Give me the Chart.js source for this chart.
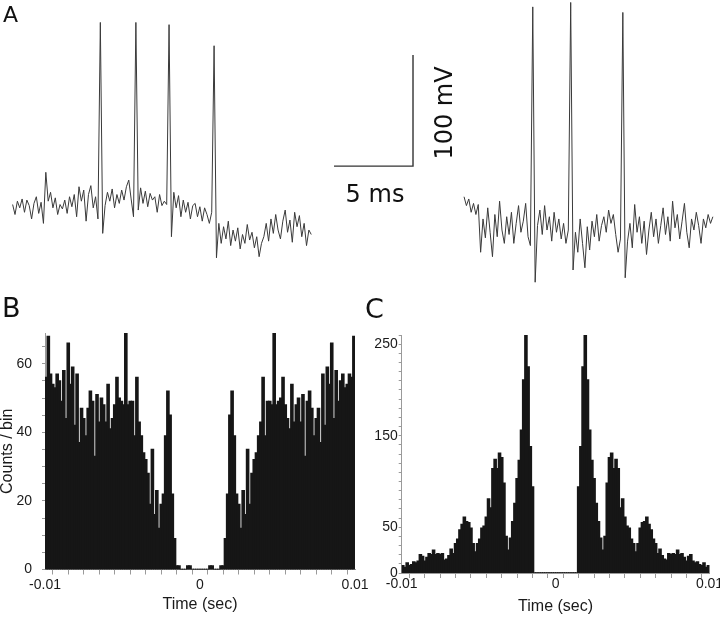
<!DOCTYPE html>
<html>
<head>
<meta charset="utf-8">
<title>Burst recordings and autocorrelograms</title>
<script src="https://cdn.jsdelivr.net/npm/chart.js@4.4.1/dist/chart.umd.min.js"></script>
<style>
  html, body { margin: 0; padding: 0; background: #fff; }
  body { position: relative; width: 720px; height: 617px; overflow: hidden; }
  canvas { position: absolute; }
  .label { position: absolute; font-family: "DejaVu Sans", sans-serif; color: #111; line-height: 1; white-space: nowrap; }
</style>
</head>
<body>
<canvas id="traces" width="720" height="290" style="left:0;top:0"></canvas>
<canvas id="hist-b" width="375" height="327" style="left:0;top:290px"></canvas>
<canvas id="hist-c" width="376" height="327" style="left:356px;top:290px"></canvas>

<div class="label" style="left:3px;top:4px;font-size:22px">A</div>
<div class="label" style="left:2px;top:294px;font-size:27px">B</div>
<div class="label" style="left:365px;top:295px;font-size:27px">C</div>
<div class="label" style="left:325px;top:182px;width:100px;text-align:center;font-size:24px">5 ms</div>
<div class="label" style="left:384px;top:101px;width:120px;text-align:center;font-size:24px;transform:rotate(-90deg)">100 mV</div>

<script>
// panel A: two recorded traces, mV, one sample every SAMPLE_MS
const SAMPLE_MS = 0.15;
const LEFT_START_MS = 0.8;
const RIGHT_START_MS = 29.37;

const LEFT_TRACE_MV = [
  5, -4, 8, 2, 10, -2, 9, 4, -8, 6, 12, -3, 7, -12,
  34, 8, 16, 2, 11, -4, 5, 1, 9, -3, 12, 3, 14, -6, 21, 8, 18, -10, 14, 22, 2, 12, -8,
  169,
  -21, 4, 16, 8, 19, 2, 14, 6, 18, 9, 21, 27, 10, -6,
  169,
  0, 20, 6, 17, 3, 15, 9, 12, -2, 14, 4, 8, 5,
  167,
  -24, 16, 2, 13, -6, 9, -2, 7, -8, 4, 6, -6, 3, -10, 2, -4, -12, -2,
  148,
  -43, -12, -30, -15, -26, -10, -32, -18, -28, -16, -35, -22, -30, -13, -27, -20, -34, -24, -42, -30,
  -24, -12, -28, -8, -21, -4, -18, -26, -10, 0, -20, -9, -29, -2, -15, -5, -24, -12, -32, -18, -22
];

const RIGHT_TRACE_MV = [
  12, 4, 10, -2, 6, -4, 5,
  -38, -8, -25, 2, -20, -42, -4, -24, 8, -18, -30, -6, -22, -2, -30, -12, 4, -20, -10, 6, -24, -32,
  183,
  -65, -14, 0, -22, 4, -18, -6, -28, -2, -20, -8, -26, -12, -30, -18,
  187,
  -54, -20, -38, -8, -30, -52, -15, -36, -10, -24, -4, -28, -14, -6, -20, 0, -12, -4, -22, -38, -26,
  178,
  -61, -28, -12, -34, 5, -20, -6, -30, -10, -40, -18, -2, -24, -8, -30, -14, 2, -22, -6, -28,
  8, -16, -4, -26, -10, 6, -20, -34, -8, -18, -2, -14, -30, -8, -16, -4, -12, -6
];

// scale bar: 5 ms by 100 mV
const SCALE_MS = 5;
const SCALE_MV = 100;
const SCALE_X0_MS = 21.14;
const SCALE_Y0_MV = 39.6;

// panels B and C: autocorrelograms, 140 bins from -0.01 to 0.01 s
const T_MIN = -0.01;
const T_MAX = 0.01;

const B_COUNTS = [
  56, 68, 57, 54, 53, 57, 55, 49, 58, 44, 66, 54, 59, 42, 57, 37, 47, 44, 39, 47,
  52, 49, 33, 51, 43, 50, 48, 43, 54, 41, 44, 48, 56, 50, 49, 48, 69, 48, 49, 49,
  39, 56, 43, 39, 34, 32, 28, 19, 35, 16, 23, 12, 19, 22, 39, 52, 45, 22, 9, 1,
  1, 0, 0, 0, 1, 1, 0, 0, 0, 0,
  0, 0, 0, 0, 1, 1, 0, 0, 0, 1,
  1, 9, 22, 45, 52, 39, 22, 19, 12, 23, 16, 35, 19, 28, 32, 34, 39, 43, 56, 39,
  49, 49, 48, 69, 48, 49, 50, 56, 48, 44, 41, 54, 43, 48, 50, 43, 51, 33, 49, 52,
  47, 39, 44, 47, 37, 57, 42, 59, 54, 66, 44, 58, 49, 55, 57, 53, 54, 57, 56, 68
];

const C_COUNTS = [
  8, 6, 11, 8, 9, 12, 11, 13, 20, 18, 13, 17, 21, 20, 25, 20, 21, 20, 21, 14,
  15, 19, 26, 21, 32, 37, 47, 53, 61, 56, 55, 49, 32, 23, 32, 37, 49, 51, 61, 81,
  71, 114, 124, 114, 131, 126, 98, 40, 25, 38, 56, 76, 103, 123, 156, 211, 270, 225, 138, 94,
  0, 0, 0, 0, 0, 0, 0, 0, 0, 0,
  0, 0, 0, 0, 0, 0, 0, 0, 0, 0,
  94, 138, 225, 270, 211, 156, 123, 103, 76, 56, 38, 25, 40, 98, 126, 131, 114, 124, 114, 71,
  81, 61, 51, 49, 37, 32, 23, 32, 49, 55, 56, 61, 53, 47, 37, 32, 21, 26, 19, 15,
  14, 21, 20, 21, 20, 25, 20, 21, 17, 13, 18, 20, 13, 11, 12, 9, 8, 11, 6, 8
];

const X_TICK_LABELS = ["-0.01", "0", "0.01"];
const B_Y_TICK_LABELS = [0, 20, 40, 60];
const C_Y_TICK_LABELS = [0, 50, 150, 250];

const AXIS_GRAY = "#9a9a9a";
const INK = "#161616";

Chart.defaults.font.family = "'Liberation Sans', Arial, sans-serif";
Chart.defaults.color = "#1a1a1a";
Chart.defaults.animation = false;

function tracePoints(startMs, values) {
  return values.map((v, i) => ({ x: startMs + i * SAMPLE_MS, y: v }));
}

const traceStyle = {
  borderColor: "#3a3a3a",
  borderWidth: 1,
  pointRadius: 0,
  tension: 0,
  fill: false
};

new Chart(document.getElementById("traces"), {
  type: "line",
  data: {
    datasets: [
      { ...traceStyle, data: tracePoints(LEFT_START_MS, LEFT_TRACE_MV) },
      { ...traceStyle, data: tracePoints(RIGHT_START_MS, RIGHT_TRACE_MV) },
      {
        data: [
          { x: SCALE_X0_MS, y: SCALE_Y0_MV },
          { x: SCALE_X0_MS + SCALE_MS, y: SCALE_Y0_MV },
          { x: SCALE_X0_MS + SCALE_MS, y: SCALE_Y0_MV + SCALE_MV }
        ],
        borderColor: "#333",
        borderWidth: 1.4,
        pointRadius: 0,
        fill: false
      }
    ]
  },
  options: {
    responsive: false,
    layout: { padding: 0 },
    scales: {
      x: { type: "linear", min: 0, max: 45.57, display: false },
      y: { type: "linear", min: -72, max: 189.2, display: false }
    },
    plugins: { legend: { display: false }, tooltip: { enabled: false } }
  }
});

function binCenters(n) {
  const w = (T_MAX - T_MIN) / n;
  return Array.from({ length: n }, (_, i) => T_MIN + (i + 0.5) * w);
}

function histogram(canvasId, counts, o) {
  const centers = binCenters(counts.length);

  return new Chart(document.getElementById(canvasId), {
    type: "bar",
    data: {
      datasets: [{
        data: counts.map((c, i) => ({ x: centers[i], y: c })),
        backgroundColor: INK,
        borderWidth: 0,
        barPercentage: 1,
        categoryPercentage: 1,
        inflateAmount: 0.7,
        clip: 0
      }]
    },
    options: {
      responsive: false,
      layout: { padding: o.padding },
      scales: {
        x: {
          type: "linear",
          min: T_MIN,
          max: T_MAX,
          offset: false,
          afterFit: s => { s.height = o.xHeight; },
          grid: { drawOnChartArea: false, tickLength: 5, color: AXIS_GRAY, tickColor: AXIS_GRAY },
          border: { color: AXIS_GRAY, width: 1 },
          ticks: {
            stepSize: 0.001,
            maxTicksLimit: 25,
            autoSkip: false,
            maxRotation: 0,
            minRotation: 0,
            padding: o.xLabelPad,
            font: { size: 14 },
            callback: v => {
              const hit = X_TICK_LABELS.find(s => Math.abs(parseFloat(s) - v) < 1e-9);
              return hit === undefined ? "" : hit;
            }
          },
          title: {
            display: true,
            text: "Time (sec)",
            font: { size: 16 },
            padding: { top: 0, bottom: o.xTitlePad }
          }
        },
        y: {
          min: 0,
          max: o.yMax,
          afterFit: s => { s.width = o.yWidth; },
          grid: { drawOnChartArea: false, tickLength: 3, color: AXIS_GRAY, tickColor: AXIS_GRAY },
          border: { color: AXIS_GRAY, width: 1 },
          ticks: {
            stepSize: o.yStep,
            includeBounds: false,
            autoSkip: false,
            padding: o.yLabelPad,
            font: { size: 14 },
            callback: v => (o.yLabels.includes(v) ? String(v) : "")
          },
          title: {
            display: !!o.yTitle,
            text: o.yTitle || "",
            font: { size: 16, lineHeight: 1 },
            padding: 0
          }
        }
      },
      plugins: { legend: { display: false }, tooltip: { enabled: false } }
    }
  });
}

histogram("hist-b", B_COUNTS, {
  yMax: 69,
  yStep: 5,
  yLabels: B_Y_TICK_LABELS,
  yTitle: "Counts / bin",
  yWidth: 45,
  xHeight: 47.5,
  padding: { top: 43, right: 20, left: 0, bottom: 0 },
  xLabelPad: 2,
  xTitlePad: 3,
  yLabelPad: 10
});

histogram("hist-c", C_COUNTS, {
  yMax: 260,
  yStep: 10,
  yLabels: C_Y_TICK_LABELS,
  yTitle: "",
  yWidth: 45.7,
  xHeight: 44,
  padding: { top: 45, right: 22.5, left: 0, bottom: 0 },
  xLabelPad: -2,
  xTitlePad: 1,
  yLabelPad: 1
});
</script>
</body>
</html>
